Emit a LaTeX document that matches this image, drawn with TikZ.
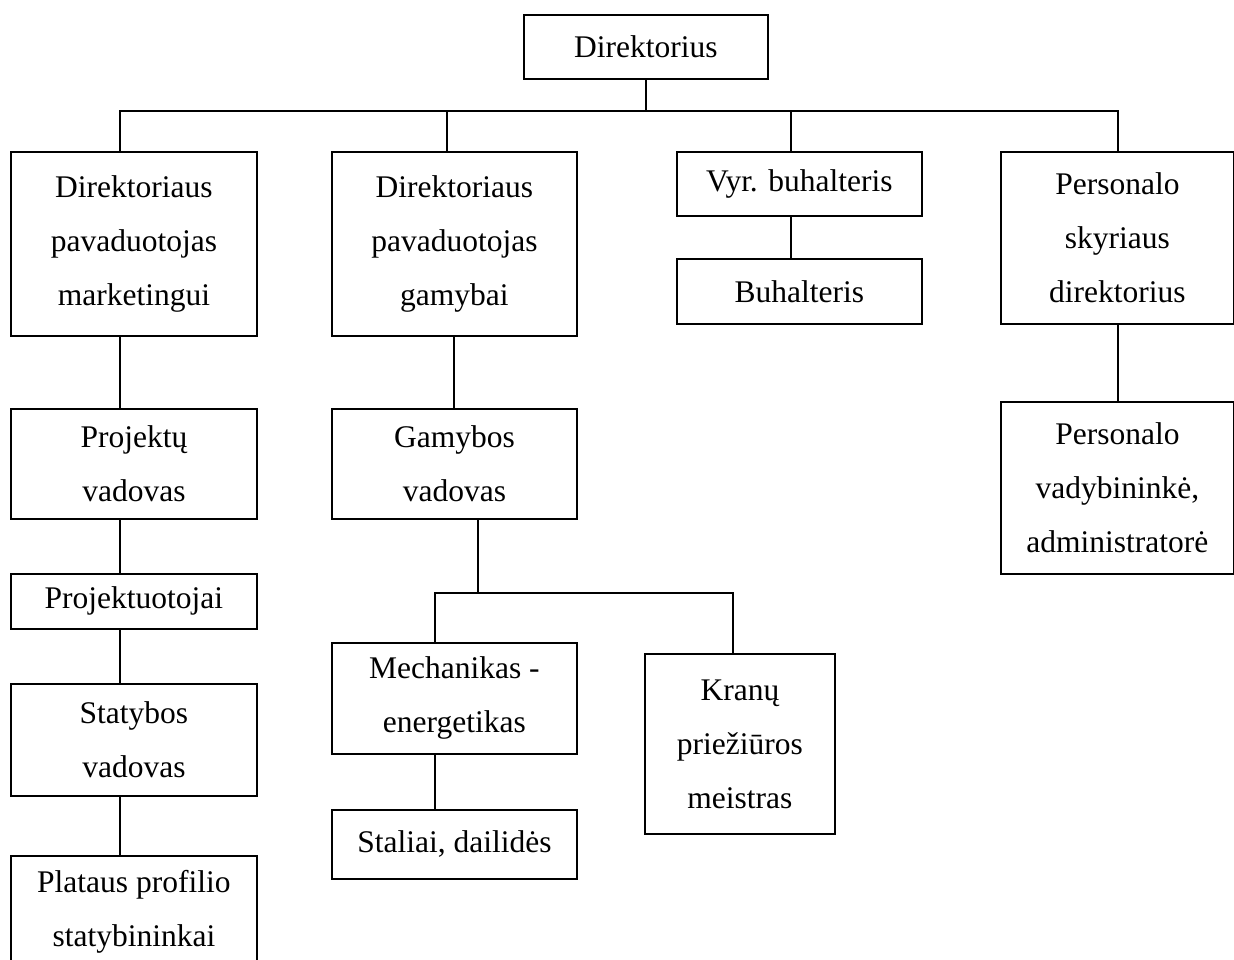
\documentclass[tikz,border=0pt]{standalone}
\usepackage{fontspec}
\setmainfont{Liberation Serif}
\begin{document}
\begin{tikzpicture}[x=1pt,y=-1pt,
  box/.style={draw, line width=1.8pt, anchor=north west, align=center, inner sep=0pt,
    font=\fontsize{31.5}{54}\selectfont},
  link/.style={line width=1.6pt}]
\clip (0,0) rectangle (1234,959);
\fill[white] (0,0) rectangle (1234,959);

% top level
\node[box, minimum width=244pt, minimum height=64pt] (dir) at (523,14) {Direktorius};

% second level
\node[box, minimum width=246pt, minimum height=184pt] (A) at (10,151)
  {Direktoriaus\\pavaduotojas\\marketingui};
\node[box, minimum width=245pt, minimum height=184pt] (B) at (331,151)
  {Direktoriaus\\pavaduotojas\\gamybai};
\node[box, minimum width=245pt, minimum height=64pt] (C) at (676,151) {Vyr. buhalteris};
\node[box, minimum width=233pt, minimum height=172pt] (E) at (1000,151)
  {Personalo\\skyriaus\\direktorius};

% marketing branch
\node[box, minimum width=246pt, minimum height=110pt] (G) at (10,408) {Projektų\\vadovas};
\node[box, minimum width=246pt, minimum height=55pt] (H) at (10,573) {Projektuotojai};
\node[box, minimum width=246pt, minimum height=112pt] (I) at (10,683) {Statybos\\vadovas};
\node[box, minimum width=246pt, minimum height=112pt] (J) at (10,855)
  {Plataus profilio\\statybininkai};

% production branch
\node[box, minimum width=245pt, minimum height=110pt] (K) at (331,408) {Gamybos\\vadovas};
\node[box, minimum width=245pt, minimum height=111pt] (L) at (331,642)
  {Mechanikas -\\energetikas};
\node[box, minimum width=245pt, minimum height=69pt] (M) at (331,809) {Staliai, dailidės};
\node[box, minimum width=190pt, minimum height=180pt] (N) at (644,653)
  {Kranų\\priežiūros\\meistras};

% accounting and personnel
\node[box, minimum width=245pt, minimum height=65pt] (D) at (676,258) {Buhalteris};
\node[box, minimum width=233pt, minimum height=172pt] (F) at (1000,401)
  {Personalo\\vadybininkė,\\administratorė};

% connector guides
\coordinate (bus) at (0,111);
\coordinate (bus2) at (0,593);
\coordinate (xa) at (120,0);
\coordinate (xb) at (447,0);
\coordinate (xb2) at (454,0);
\coordinate (xc) at (791,0);
\coordinate (xe) at (1118,0);
\coordinate (xk) at (478,0);
\coordinate (xl) at (435,0);
\coordinate (xn) at (733,0);

% connectors
\draw[link] (dir.south) -- (dir.south |- bus);
\draw[link] (xa |- A.north) -- (xa |- bus) -- (xe |- bus) -- (xe |- E.north);
\draw[link] (xb |- bus) -- (xb |- B.north);
\draw[link] (xc |- bus) -- (xc |- C.north);

\draw[link] (xa |- A.south) -- (xa |- G.north);
\draw[link] (xa |- G.south) -- (xa |- H.north);
\draw[link] (xa |- H.south) -- (xa |- I.north);
\draw[link] (xa |- I.south) -- (xa |- J.north);

\draw[link] (xb2 |- B.south) -- (xb2 |- K.north);
\draw[link] (xk |- K.south) -- (xk |- bus2);
\draw[link] (xl |- L.north) -- (xl |- bus2) -- (xn |- bus2) -- (xn |- N.north);
\draw[link] (xl |- L.south) -- (xl |- M.north);

\draw[link] (xc |- C.south) -- (xc |- D.north);
\draw[link] (xe |- E.south) -- (xe |- F.north);
\end{tikzpicture}
\end{document}
